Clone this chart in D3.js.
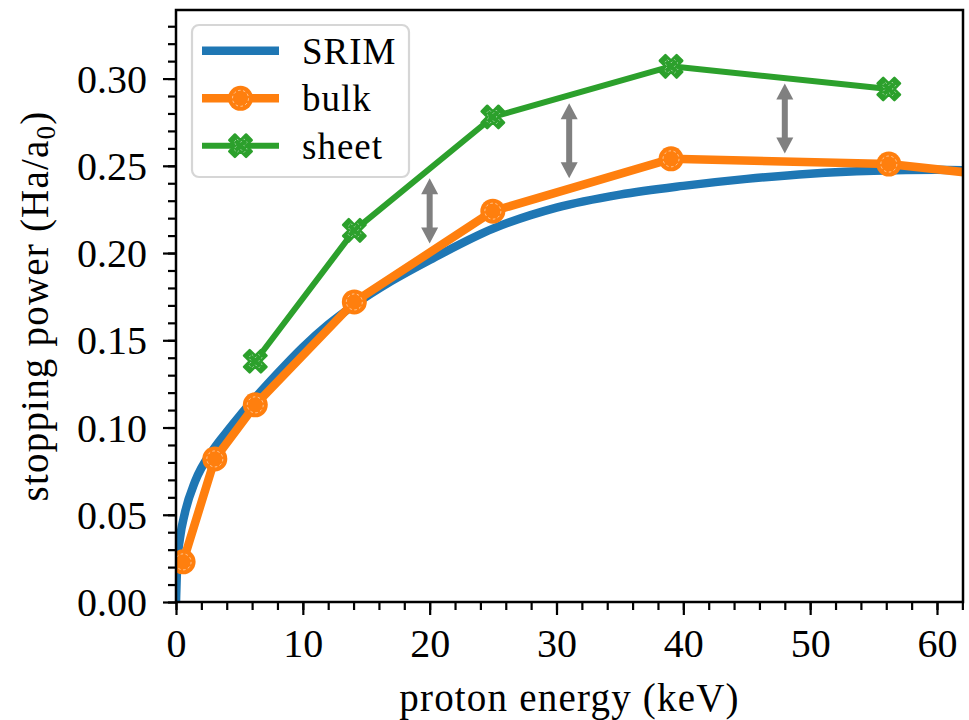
<!DOCTYPE html>
<html>
<head>
<meta charset="utf-8">
<script src="https://cdn.jsdelivr.net/npm/d3@7"></script>
<style>
  html, body { margin: 0; padding: 0; background: #ffffff; }
  svg { display: block; }
  text { font-family: "Liberation Serif", "Times New Roman", serif; fill: #000; }
</style>
</head>
<body>
<svg id="chart" width="969" height="720"></svg>
<script>
// Stopping power of protons: SRIM reference, bulk and sheet calculations
const srimEnergy = [0, 0.1, 0.3, 0.7, 1.5, 3, 4, 5, 6, 8, 10, 12, 14, 17, 20, 25, 30, 35, 40, 45, 50, 55, 60, 62];
const srimPower  = [0, 0.022, 0.036, 0.051, 0.069, 0.088, 0.0975, 0.1065, 0.115, 0.131, 0.146, 0.159, 0.170, 0.184, 0.196, 0.214, 0.226, 0.2335, 0.2385, 0.2425, 0.2455, 0.2472, 0.2478, 0.2475];

const bulkEnergy = [0.56, 3.06, 6.25, 14.06, 24.98, 39.03, 56.2, 76.5];
const bulkPower  = [0.023, 0.082, 0.113, 0.172, 0.224, 0.254, 0.251, 0.235];

const sheetEnergy = [6.25, 14.06, 24.98, 39.03, 56.2];
const sheetPower  = [0.138, 0.213, 0.278, 0.307, 0.294];

// double-headed arrows marking the sheet/bulk gap
const arrowEnergy = [20, 31, 48];
const arrowLow    = [0.2055, 0.2428, 0.2571];
const arrowHigh   = [0.2428, 0.2858, 0.2972];

const xMajorTicks = [0, 10, 20, 30, 40, 50, 60];
const xMinorTicks = d3.range(0, 62.01, 2);
const yMajorTicks = [0, 0.05, 0.10, 0.15, 0.20, 0.25, 0.30];
const yMinorTicks = d3.range(0, 0.3391, 0.01);

const seriesNames = ["SRIM", "bulk", "sheet"];
const xLabel = "proton energy (keV)";

const colors = { srim: "#1f77b4", bulk: "#ff7f0e", sheet: "#2ca02c", arrow: "#808080" };

const frame = { left: 176, right: 963, top: 10, bottom: 602 };
const svg = d3.select("#chart");

const x = d3.scaleLinear().domain([0, 62.05]).range([frame.left, frame.right]);
const y = d3.scaleLinear().domain([0, 0.3393]).range([frame.bottom, frame.top]);

svg.append("defs").append("clipPath").attr("id", "plotClip")
  .append("rect")
  .attr("x", frame.left).attr("y", frame.top)
  .attr("width", frame.right - frame.left).attr("height", frame.bottom - frame.top);

const plot = svg.append("g").attr("clip-path", "url(#plotClip)");

// SRIM curve
const srimData = srimEnergy.map((e, i) => [e, srimPower[i]]);
plot.append("path")
  .datum(srimData)
  .attr("fill", "none")
  .attr("stroke", colors.srim)
  .attr("stroke-width", 8.5)
  .attr("stroke-linejoin", "round")
  .attr("d", d3.line().x(d => x(d[0])).y(d => y(d[1])).curve(d3.curveMonotoneX));

// bulk series
const bulkData = bulkEnergy.map((e, i) => [e, bulkPower[i]]);
plot.append("path")
  .datum(bulkData)
  .attr("fill", "none")
  .attr("stroke", colors.bulk)
  .attr("stroke-width", 8.5)
  .attr("stroke-linejoin", "round")
  .attr("d", d3.line().x(d => x(d[0])).y(d => y(d[1])));

function circleMarker(g, cx, cy) {
  g.append("circle").attr("cx", cx).attr("cy", cy).attr("r", 12.5)
    .attr("fill", colors.bulk);
  g.append("circle").attr("cx", cx).attr("cy", cy).attr("r", 8)
    .attr("fill", "none").attr("stroke", "rgba(255,255,255,0.55)")
    .attr("stroke-width", 1).attr("stroke-dasharray", "2.5,2.5");
}
bulkData.forEach(d => circleMarker(plot, x(d[0]), y(d[1])));

// sheet series
const sheetData = sheetEnergy.map((e, i) => [e, sheetPower[i]]);
plot.append("path")
  .datum(sheetData)
  .attr("fill", "none")
  .attr("stroke", colors.sheet)
  .attr("stroke-width", 6)
  .attr("stroke-linejoin", "round")
  .attr("d", d3.line().x(d => x(d[0])).y(d => y(d[1])));

// filled "X" marker outline (unit coordinates)
const xShape = [[-1, -2], [0, -1], [1, -2], [2, -1], [1, 0], [2, 1],
                [1, 2], [0, 1], [-1, 2], [-2, 1], [-1, 0], [-2, -1]];
function xMarker(g, cx, cy) {
  const s = 5.6;
  const outer = "M" + xShape.map(p => [cx + p[0] * s, cy + p[1] * s].join(",")).join("L") + "Z";
  g.append("path").attr("d", outer)
    .attr("fill", colors.sheet).attr("stroke", colors.sheet)
    .attr("stroke-width", 2.5).attr("stroke-linejoin", "round");
  const si = 3.4;
  const inner = "M" + xShape.map(p => [cx + p[0] * si, cy + p[1] * si].join(",")).join("L") + "Z";
  g.append("path").attr("d", inner)
    .attr("fill", "none").attr("stroke", "rgba(255,255,255,0.55)")
    .attr("stroke-width", 1).attr("stroke-dasharray", "2,2.5");
}
sheetData.forEach(d => xMarker(plot, x(d[0]), y(d[1])));

// gap arrows
function arrowPath(px, yTop, yBot) {
  const hw = 8.5, hl = 16, sw = 3;
  return [
    "M", px, yTop,
    "L", px + hw, yTop + hl,
    "L", px + sw, yTop + hl,
    "L", px + sw, yBot - hl,
    "L", px + hw, yBot - hl,
    "L", px, yBot,
    "L", px - hw, yBot - hl,
    "L", px - sw, yBot - hl,
    "L", px - sw, yTop + hl,
    "L", px - hw, yTop + hl,
    "Z"
  ].join(" ");
}
arrowEnergy.forEach((e, i) => {
  plot.append("path")
    .attr("d", arrowPath(x(e), y(arrowHigh[i]), y(arrowLow[i])))
    .attr("fill", colors.arrow);
});

// axes
const tickFont = 40;
const xAxis = svg.append("g").attr("transform", `translate(0,${frame.bottom})`)
  .call(d3.axisBottom(x).tickValues(xMajorTicks).tickSize(13).tickFormat(d3.format("d")));
const xMinor = svg.append("g").attr("transform", `translate(0,${frame.bottom})`)
  .call(d3.axisBottom(x).tickValues(xMinorTicks).tickSize(8).tickFormat(""));
const yAxis = svg.append("g").attr("transform", `translate(${frame.left},0)`)
  .call(d3.axisLeft(y).tickValues(yMajorTicks).tickSize(13).tickFormat(d3.format(".2f")));
const yMinor = svg.append("g").attr("transform", `translate(${frame.left},0)`)
  .call(d3.axisLeft(y).tickValues(yMinorTicks).tickSize(8).tickFormat(""));

[xAxis, xMinor, yAxis, yMinor].forEach(g => {
  g.select(".domain").remove();
  g.selectAll(".tick line").attr("stroke", "#000").attr("stroke-width", 2.2);
});
xAxis.selectAll(".tick text")
  .attr("y", 55).attr("dy", 0)
  .style("font-size", tickFont + "px")
  .style("font-family", '"Liberation Serif", serif');
yAxis.selectAll(".tick text")
  .attr("x", -29).attr("dy", "0.34em")
  .style("font-size", tickFont + "px")
  .style("font-family", '"Liberation Serif", serif');

// frame
svg.append("rect")
  .attr("x", frame.left).attr("y", frame.top)
  .attr("width", frame.right - frame.left).attr("height", frame.bottom - frame.top)
  .attr("fill", "none").attr("stroke", "#000").attr("stroke-width", 2.5);

// axis labels
svg.append("text")
  .attr("x", (frame.left + frame.right) / 2).attr("y", 711)
  .attr("text-anchor", "middle")
  .style("font-size", "39px").style("letter-spacing", "1.2px")
  .text(xLabel);

const yl = svg.append("text")
  .attr("transform", `translate(48,${(frame.top + frame.bottom) / 2}) rotate(-90)`)
  .attr("text-anchor", "middle")
  .style("font-size", "39px").style("letter-spacing", "1.2px");
yl.append("tspan").text("stopping power (Ha/a");
yl.append("tspan").attr("baseline-shift", "-25%").style("font-size", "27px").text("0");
yl.append("tspan").text(")");

// legend
const legend = svg.append("g");
legend.append("rect")
  .attr("x", 192).attr("y", 25).attr("width", 217).attr("height", 152)
  .attr("rx", 7).attr("ry", 7)
  .attr("fill", "rgba(255,255,255,0.8)")
  .attr("stroke", "#d6d6d6").attr("stroke-width", 2.2);

const rowY = [50.7, 98.3, 145.7];
const lx0 = 202, lx1 = 279;
// SRIM entry
legend.append("line").attr("x1", lx0).attr("x2", lx1).attr("y1", rowY[0]).attr("y2", rowY[0])
  .attr("stroke", colors.srim).attr("stroke-width", 8.5);
// bulk entry
legend.append("line").attr("x1", lx0).attr("x2", lx1).attr("y1", rowY[1]).attr("y2", rowY[1])
  .attr("stroke", colors.bulk).attr("stroke-width", 8.5);
circleMarker(legend, (lx0 + lx1) / 2, rowY[1]);
// sheet entry
legend.append("line").attr("x1", lx0).attr("x2", lx1).attr("y1", rowY[2]).attr("y2", rowY[2])
  .attr("stroke", colors.sheet).attr("stroke-width", 6);
xMarker(legend, (lx0 + lx1) / 2, rowY[2]);

seriesNames.forEach((name, i) => {
  legend.append("text")
    .attr("x", 302).attr("y", rowY[i] + 13)
    .style("font-size", "37px").style("letter-spacing", "1px")
    .text(name);
});
</script>
</body>
</html>
